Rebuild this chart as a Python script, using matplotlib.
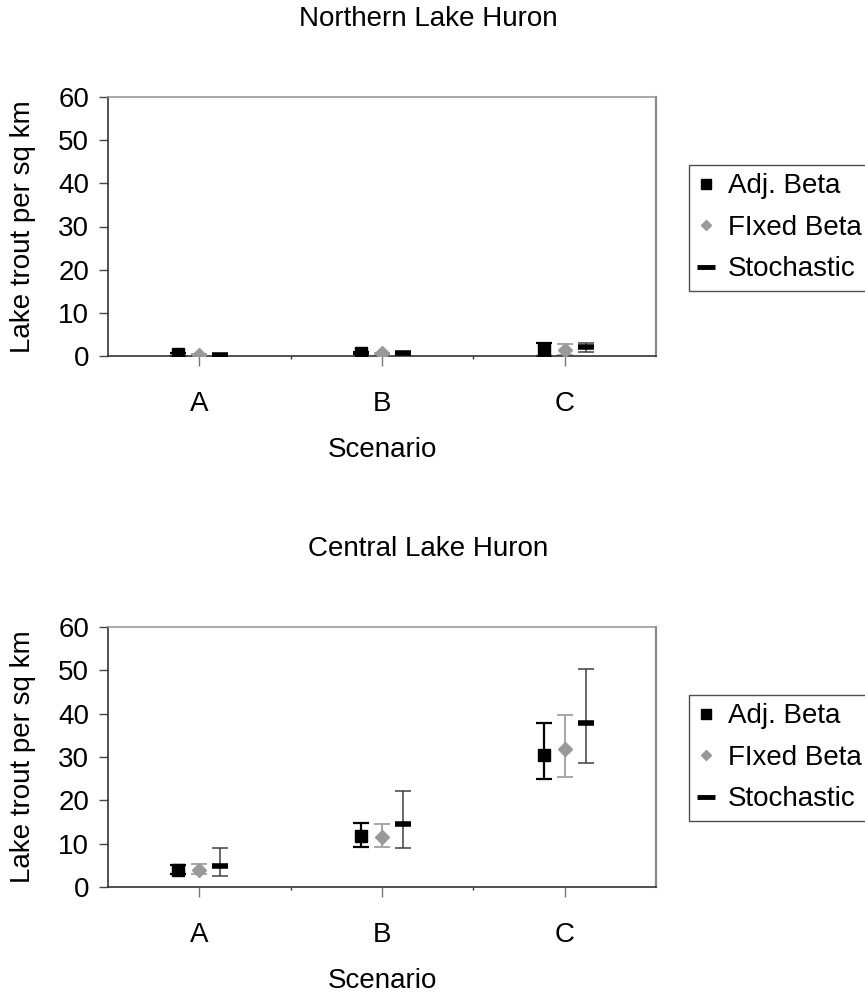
import numpy as np
import matplotlib
matplotlib.use("Agg")
import matplotlib.pyplot as plt
from matplotlib.lines import Line2D

plt.rcParams["font.family"] = ["Liberation Sans", "DejaVu Sans"]

scenarios = ["A", "B", "C"]
series = ["Adj. Beta", "FIxed Beta", "Stochastic"]

# Northern Lake Huron
north_adj = [0.4, 0.7, 1.5]
north_adj_lo = [0.1, 0.4, 0.1]
north_adj_hi = [0.7, 1.0, 2.9]
north_fix = [0.3, 0.6, 1.4]
north_fix_lo = [0.1, 0.4, 0.2]
north_fix_hi = [0.5, 0.8, 2.7]
north_sto = [0.3, 0.8, 2.0]
north_sto_lo = [0.2, 0.6, 1.0]
north_sto_hi = [0.4, 1.0, 2.9]

# Central Lake Huron
central_adj = [4.0, 11.8, 30.4]
central_adj_lo = [2.9, 9.3, 24.9]
central_adj_hi = [5.1, 14.8, 37.8]
central_fix = [4.0, 11.5, 31.9]
central_fix_lo = [2.9, 9.3, 25.3]
central_fix_hi = [5.2, 14.5, 39.6]
central_sto = [4.9, 14.5, 37.8]
central_sto_lo = [2.6, 8.9, 28.6]
central_sto_hi = [8.9, 22.2, 50.4]

W, H = 865, 994
fig = plt.figure(figsize=(W / 100, H / 100), dpi=100)

def px_axes(left, top, right, bottom):
    return fig.add_axes([left / W, 1 - bottom / H, (right - left) / W, (bottom - top) / H])

styles = [
    dict(marker="s", ms=8, color="black", ecolor="black", elw=1.6),
    dict(marker="D", ms=7, color="#999999", ecolor="#a6a6a6", elw=1.4),
    dict(marker="_", ms=12, color="black", ecolor="#404040", elw=1.1),
]
offsets = [-0.115, 0.0, 0.115]

def panel(ax, title, title_y, legend_top, data):
    x = np.arange(len(scenarios))
    for (mean, lo, hi), st, off in zip(data, styles, offsets):
        mean = np.array(mean)
        yerr = [mean - np.array(lo), np.array(hi) - mean]
        ax.errorbar(x + off, mean, yerr=yerr, fmt="none", ecolor=st["ecolor"],
                    elinewidth=st["elw"], capsize=5.5, capthick=st["elw"], zorder=2)
        if st["marker"] == "_":
            ax.plot(x + off, mean, linestyle="none", marker="_", ms=st["ms"],
                    mew=4, color=st["color"], zorder=3)
        else:
            ax.plot(x + off, mean, linestyle="none", marker=st["marker"], ms=st["ms"],
                    color=st["color"], mec=st["color"], zorder=3)
    ax.set_xlim(-0.5, 2.5)
    ax.set_ylim(0, 60)
    ax.set_yticks(range(0, 61, 10))
    ax.set_xticks(x)
    ax.set_xticklabels(scenarios)
    ax.set_xticks([0.5, 1.5], minor=True)
    ax.tick_params(axis="x", which="major", length=7, width=1, color="#777777",
                   labelsize=20, pad=18.5)
    ax.tick_params(axis="x", which="minor", length=2, width=1, color="#333333")
    ax.tick_params(axis="y", length=6.5, width=1, color="#444444", labelsize=20, pad=7)
    for s in ["left", "bottom"]:
        ax.spines[s].set_color("#333333")
        ax.spines[s].set_linewidth(1.2)
    ax.spines["top"].set_color("#999999")
    ax.spines["top"].set_linewidth(1.2)
    ax.spines["right"].set_color("#888888")
    ax.spines["right"].set_linewidth(1.6)
    ax.set_xlabel("Scenario", fontsize=20, va="center")
    ax.xaxis.set_label_coords(0.5, -0.363)
    ax.set_ylabel("Lake trout per sq km", fontsize=20, va="center")
    ax.yaxis.set_label_coords(-0.155, 0.5)
    fig.text(428 / W, 1 - title_y / H, title, fontsize=20, ha="center", va="center")

    handles = [
        Line2D([], [], linestyle="none", marker="s", ms=7.5, color="black"),
        Line2D([], [], linestyle="none", marker="D", ms=5, color="#999999"),
        Line2D([], [], linestyle="none", marker="_", ms=13, mew=3.5, color="black"),
    ]
    leg = ax.legend(handles, series, loc="upper left",
                    bbox_to_anchor=(689 / W, 1 - legend_top / H), bbox_transform=fig.transFigure,
                    borderaxespad=0, fontsize=20, frameon=True, fancybox=False,
                    edgecolor="#222222", handlelength=0.6, handletextpad=0.5,
                    labelspacing=0.56, borderpad=0.3)
    leg.get_frame().set_linewidth(1.0)

ax1 = px_axes(108, 97, 656, 356)
panel(ax1, "Northern Lake Huron", 19, 165,
      [(north_adj, north_adj_lo, north_adj_hi),
       (north_fix, north_fix_lo, north_fix_hi),
       (north_sto, north_sto_lo, north_sto_hi)])

ax2 = px_axes(108, 627, 656, 887)
panel(ax2, "Central Lake Huron", 549, 695,
      [(central_adj, central_adj_lo, central_adj_hi),
       (central_fix, central_fix_lo, central_fix_hi),
       (central_sto, central_sto_lo, central_sto_hi)])

fig.savefig("out.png", dpi=100)
